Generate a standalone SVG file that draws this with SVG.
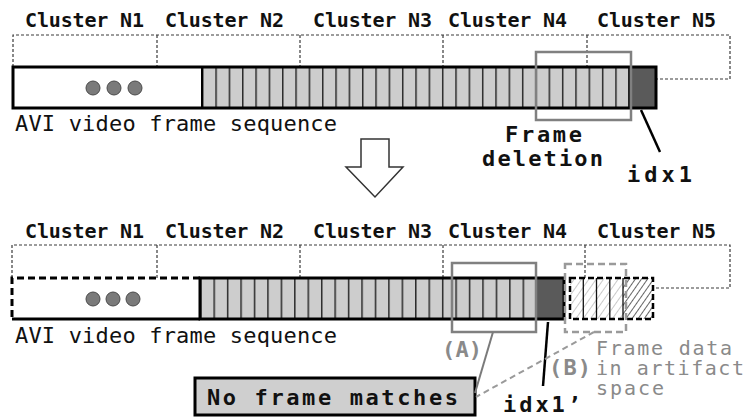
<svg xmlns="http://www.w3.org/2000/svg" width="746" height="418" viewBox="0 0 746 418">
  <defs>
    <!-- vertical frame dividers -->
    <pattern id="framesTop" patternUnits="userSpaceOnUse" x="202" y="0" width="13.33" height="418">
      <rect width="13.33" height="418" fill="#cdcdcd"/>
      <line x1="0.75" y1="0" x2="0.75" y2="418" stroke="#2a2a2a" stroke-width="1.5"/>
    </pattern>
    <pattern id="framesBot" patternUnits="userSpaceOnUse" x="200" y="0" width="13.44" height="418">
      <rect width="13.44" height="418" fill="#cdcdcd"/>
      <line x1="0.75" y1="0" x2="0.75" y2="418" stroke="#2a2a2a" stroke-width="1.5"/>
    </pattern>
    <!-- hatching for frame data left in artifact space -->
    <pattern id="hatchLight" patternUnits="userSpaceOnUse" width="6" height="6" patternTransform="rotate(35)">
      <rect width="6" height="6" fill="#ffffff"/>
      <line x1="0" y1="0" x2="0" y2="6" stroke="#bdbdbd" stroke-width="1.6"/>
    </pattern>
    <pattern id="hatchDark" patternUnits="userSpaceOnUse" width="5" height="5" patternTransform="rotate(35)">
      <rect width="5" height="5" fill="#ffffff"/>
      <line x1="0" y1="0" x2="0" y2="5" stroke="#555555" stroke-width="1.8"/>
    </pattern>
  </defs>
  <style>
    .cl { font-family: "DejaVu Sans Mono", "Liberation Mono", monospace; font-weight: bold; font-size: 20px; fill: #111; }
    .seq { font-family: "DejaVu Sans Mono", "Liberation Mono", monospace; font-size: 22px; fill: #111; }
    .bold { font-family: "DejaVu Sans Mono", "Liberation Mono", monospace; font-weight: bold; font-size: 22px; fill: #111; }
    .gb { font-family: "DejaVu Sans Mono", "Liberation Mono", monospace; font-weight: bold; font-size: 22px; fill: #8a8a8a; }
    .gr { font-family: "DejaVu Sans Mono", "Liberation Mono", monospace; font-size: 20px; fill: #8a8a8a; }
    .cbox { fill: none; stroke: #3a3a3a; stroke-width: 1.2; stroke-dasharray: 3 2; }
    .dot { fill: #7a7a7a; stroke: #4a4a4a; stroke-width: 1; }
    .dark { fill: #5a5a5a; }
    .outline { fill: none; stroke: #000; stroke-width: 3; }
    .grayBox { fill: none; stroke: #808080; stroke-width: 2.5; }
    .lead { stroke: #000; stroke-width: 2.5; fill: none; }
  </style>

  <!-- ===== Original sequence ===== -->
  <g id="clusters-top">
    <text class="cl" x="25" y="27" textLength="119" lengthAdjust="spacing">Cluster N1</text>
    <text class="cl" x="165" y="27" textLength="119" lengthAdjust="spacing">Cluster N2</text>
    <text class="cl" x="313" y="27" textLength="119" lengthAdjust="spacing">Cluster N3</text>
    <text class="cl" x="448" y="27" textLength="119" lengthAdjust="spacing">Cluster N4</text>
    <text class="cl" x="597" y="27" textLength="119" lengthAdjust="spacing">Cluster N5</text>
    <path class="cbox" d="M13,67 V35 H730 V79 H656 M157,35 V67 M300,35 V67 M443,35 V67 M587,35 V67"/>
  </g>

  <g id="sequence-top">
    <rect x="13" y="67" width="189" height="41" fill="#fff"/>
    <rect x="202" y="67" width="427" height="41" fill="url(#framesTop)"/>
    <rect x="629" y="67" width="27" height="41" class="dark"/>
    <line x1="629" y1="67" x2="629" y2="108" stroke="#000" stroke-width="1.5"/>
    <line x1="202" y1="67" x2="202" y2="108" stroke="#000" stroke-width="2"/>
    <rect class="outline" x="13" y="67" width="643" height="41"/>
    <circle class="dot" cx="93" cy="88" r="7"/>
    <circle class="dot" cx="114" cy="88" r="7"/>
    <circle class="dot" cx="135" cy="88" r="7"/>
    <text class="seq" x="15" y="131" textLength="322" lengthAdjust="spacing">AVI video frame sequence</text>
  </g>

  <g id="frame-deletion">
    <rect class="grayBox" x="536" y="52" width="95" height="68"/>
    <text class="bold" x="505" y="142" textLength="77" lengthAdjust="spacing">Frame</text>
    <text class="bold" x="482" y="166" textLength="121" lengthAdjust="spacing">deletion</text>
  </g>

  <g id="idx1">
    <text class="bold" x="627" y="182" font-size="25" textLength="65" lengthAdjust="spacing">idx1</text>
  </g>

  <!-- transition arrow -->
  <g id="arrow">
    <polygon points="361,139 389,139 389,167 403,167 375,197 346,167 361,167" fill="#fff" stroke="#333" stroke-width="1.5"/>
  </g>

  <!-- ===== Sequence after deletion ===== -->
  <g id="clusters-bottom">
    <text class="cl" x="25" y="238" textLength="119" lengthAdjust="spacing">Cluster N1</text>
    <text class="cl" x="165" y="238" textLength="119" lengthAdjust="spacing">Cluster N2</text>
    <text class="cl" x="313" y="238" textLength="119" lengthAdjust="spacing">Cluster N3</text>
    <text class="cl" x="448" y="238" textLength="119" lengthAdjust="spacing">Cluster N4</text>
    <text class="cl" x="597" y="238" textLength="119" lengthAdjust="spacing">Cluster N5</text>
    <path class="cbox" d="M12,278 V245 H730 V288 H654 M157,245 V278 M300,245 V278 M443,245 V278 M585,245 V278"/>
  </g>

  <g id="sequence-bottom">
    <rect x="12" y="278" width="188" height="41" fill="#fff"/>
    <path d="M200,278 H12 V319" fill="none" stroke="#000" stroke-width="3" stroke-dasharray="7 4"/>
    <line x1="12" y1="319" x2="200" y2="319" stroke="#000" stroke-width="3"/>
    <rect x="200" y="278" width="336" height="41" fill="url(#framesBot)"/>
    <rect x="536" y="278" width="28" height="41" class="dark"/>
    <rect class="outline" x="200" y="278" width="364" height="41"/>
    <circle class="dot" cx="93" cy="299" r="7"/>
    <circle class="dot" cx="113" cy="299" r="7"/>
    <circle class="dot" cx="133" cy="299" r="7"/>
    <text class="seq" x="15" y="343" textLength="322" lengthAdjust="spacing">AVI video frame sequence</text>
  </g>

  <g id="artifact-space">
    <rect x="570" y="278" width="53" height="41" fill="url(#hatchLight)"/>
    <rect x="623" y="278" width="30" height="41" fill="url(#hatchDark)"/>
    <path d="M583.3,278 V319 M596.5,278 V319 M609.8,278 V319 M623,278 V319" stroke="#111" stroke-width="1.3"/>
    <rect x="570" y="278" width="83" height="41" fill="none" stroke="#000" stroke-width="2.5" stroke-dasharray="6 3"/>
  </g>

  <g id="box-A">
    <rect class="grayBox" x="452" y="263" width="84" height="69"/>
    <text class="gb" x="442" y="357" textLength="40" lengthAdjust="spacing">(A)</text>
  </g>

  <g id="box-B">
    <rect x="565" y="264" width="61" height="68" fill="none" stroke="#9a9a9a" stroke-width="2.5" stroke-dasharray="7 4"/>
    <text class="gb" x="549" y="375" textLength="42" lengthAdjust="spacing">(B)</text>
    <text class="gr" x="596" y="355" textLength="136" lengthAdjust="spacing">Frame data</text>
    <text class="gr" x="596" y="375" textLength="148" lengthAdjust="spacing">in artifact</text>
    <text class="gr" x="596" y="395" textLength="68" lengthAdjust="spacing">space</text>
  </g>

  <g id="idx1-new">
    <text class="bold" x="503" y="412" font-size="25" textLength="78" lengthAdjust="spacing">idx1’</text>
  </g>

  <g id="no-match">
    <rect x="195" y="378" width="280" height="37" fill="#cfcfcf" stroke="#000" stroke-width="3"/>
    <text class="bold" x="207" y="405" font-size="24" textLength="251" lengthAdjust="spacing">No frame matches</text>
  </g>

  <!-- leaders and links -->
  <g id="connectors">
    <line class="lead" x1="641" y1="110" x2="660" y2="152"/>
    <line class="lead" x1="548" y1="322" x2="543" y2="386"/>
    <line x1="493" y1="332" x2="475" y2="393" stroke="#7a7a7a" stroke-width="2"/>
    <line x1="594" y1="332" x2="476" y2="397" stroke="#9a9a9a" stroke-width="2" stroke-dasharray="6 4"/>
  </g>
</svg>
